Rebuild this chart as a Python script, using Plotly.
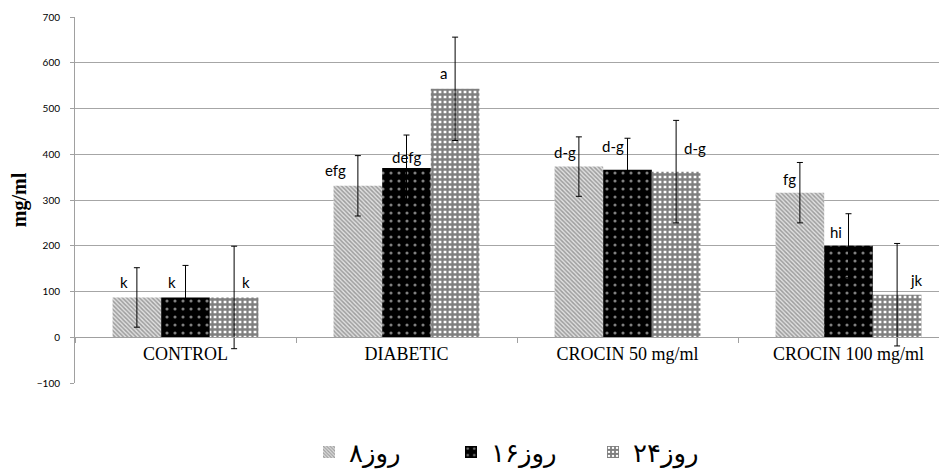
import plotly.graph_objects as go

categories = ["CONTROL", "DIABETIC", "CROCIN 50 mg/ml", "CROCIN 100 mg/ml"]
series_names = ["روز۸", "روز۱۶", "روز۲۴"]

day8 = [87, 331, 373, 316]
day16 = [87, 370, 366, 200]
day24 = [87, 543, 362, 93]

err8 = [65, 66, 65, 66]
err16 = [70, 72, 69, 70]
err24 = [112, 113, 112, 112]

labels8 = ["k", "efg", "d-g", "fg"]
labels16 = ["k", "defg", "d-g", "hi"]
labels24 = ["k", "a", "d-g", "jk"]

y_ticks = [-100, 0, 100, 200, 300, 400, 500, 600, 700]

# styling: pixel shifts of the letter labels relative to bar centre
label_dx = [[-13, -22, -14, -10], [-14, 0, -15, -13], [12, -12, 19, 19]]
label_dy = [[15, 16, 15, 14], [15, 11, 24, 14], [15, 16, 24, 15]]

# the page body adds an 8px offset, so the figure is 8px smaller
OFF = 8
W, H = 947 - OFF, 471 - OFF
ml, mr, mt, mb = 75 - OFF, 2, 17 - OFF, 88
bargap = 0.34
cat_px = 221.0
plot_w = W - ml - mr
plot_h = H - mt - mb
x_end = -0.5 + plot_w / cat_px

patterns = [
    dict(shape="\\", fgcolor="#5a5a5a", bgcolor="#e0e0e0", size=3, solidity=0.5),
    dict(shape=".", fgcolor="#ffffff", bgcolor="#000000", size=8, solidity=0.12),
    dict(shape="+", fgcolor="#000000", bgcolor="#ffffff", size=5, solidity=0.7),
]

fig = go.Figure()
vals = [day8, day16, day24]
errs = [err8, err16, err24]
labs = [labels8, labels16, labels24]
for i in range(3):
    fig.add_trace(go.Bar(
        x=categories, y=vals[i], name=series_names[i],
        marker=dict(pattern=patterns[i], line=dict(width=0)),
        error_y=dict(type="data", array=errs[i], visible=True,
                     color="#000000", thickness=1, width=3),
    ))

bw = (1 - bargap) / 3
for i in range(3):
    for j in range(4):
        fig.add_annotation(
            x=j + (i - 1) * bw, y=vals[i][j], xref="x", yref="y",
            text=labs[i][j], showarrow=False,
            xshift=label_dx[i][j], yshift=label_dy[i][j],
            font=dict(family="Lato, Liberation Sans", size=15, color="#000000"),
        )

fig.update_layout(
    width=W, height=H,
    margin=dict(l=ml, r=mr, t=mt, b=mb, autoexpand=False),
    paper_bgcolor="white", plot_bgcolor="white",
    barmode="group", bargap=bargap, bargroupgap=0,
    showlegend=True,
    legend=dict(orientation="h", x=(522 - 75) / (947 - 75 - mr), xanchor="center",
                y=(383 - 452) / plot_h, yanchor="middle",
                font=dict(family="DejaVu Sans", size=26, color="#000000"),
                traceorder="normal", itemwidth=30, entrywidth=97),
    xaxis=dict(
        range=[-0.5, x_end], anchor="free", automargin=False,
        position=(100 / 800),
        showline=True, linecolor="#a0a0a0", linewidth=1,
        ticks="outside", tickson="boundaries", ticklen=5, tickcolor="#a0a0a0",
        showgrid=False,
        tickfont=dict(family="Liberation Serif", size=18, color="#000000"),
    ),
    yaxis=dict(
        range=[-100, 700], tickvals=y_ticks, automargin=False,
        showgrid=True, gridcolor="#a6a6a6", gridwidth=1,
        zeroline=True, zerolinecolor="#a0a0a0", zerolinewidth=1,
        showline=True, linecolor="#a0a0a0", linewidth=1,
        ticks="outside", ticklen=4, tickcolor="#a0a0a0",
        ticklabelstandoff=8,
        tickfont=dict(family="Lato, Liberation Sans", size=10, color="#000000"),
        title=dict(text="<b>mg/ml</b>", standoff=13,
                   font=dict(family="Liberation Serif", size=20, color="#000000")),
    ),
)

fig.write_html("out.html")
